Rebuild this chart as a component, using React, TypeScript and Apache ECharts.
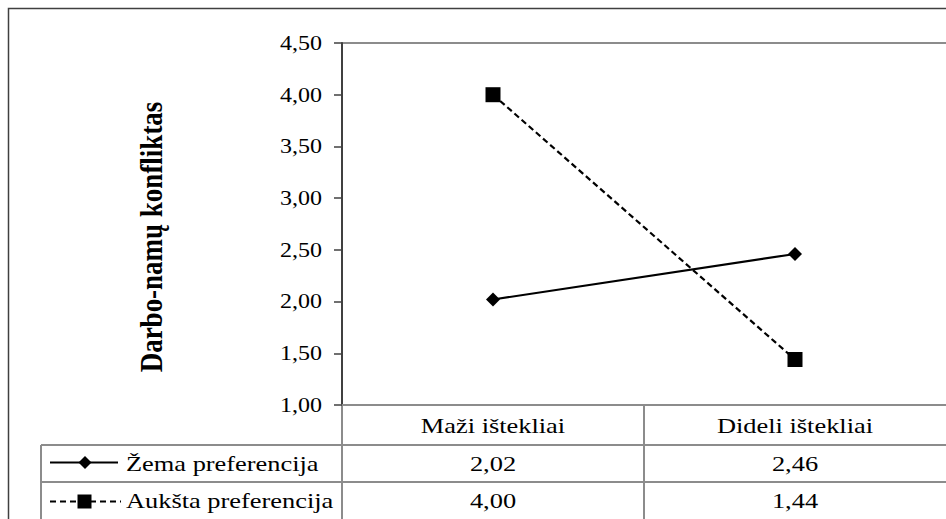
import React, { useEffect, useRef } from "react";
import * as echarts from "echarts";

const categories = ["Maži ištekliai", "Dideli ištekliai"];
const seriesNames = ["Žema preferencija", "Aukšta preferencija"];
const lowPref = [2.02, 2.46];
const highPref = [4.0, 1.44];
const yTicks = [1, 1.5, 2, 2.5, 3, 3.5, 4, 4.5];
const yMin = 1;
const yMax = 4.5;
const yStep = 0.5;
const yTitle = "Darbo-namų konfliktas";

const FONT = "Liberation Serif, Times New Roman, serif";
const fmt = (v: number) => v.toFixed(2).replace(".", ",");
const GRID_LINE = "#8c8c8c";
const SX = 1.2;

export default function App() {
  const ref = useRef<HTMLDivElement>(null);
  useEffect(() => {
    const chart = echarts.init(ref.current!, null, { renderer: "svg" });
    chart.setOption({
      animation: false,
      backgroundColor: "#fff",
      grid: { left: 342, top: 43, width: 610, height: 362 },
      xAxis: {
        type: "category",
        data: categories,
        boundaryGap: true,
        axisLine: { lineStyle: { color: GRID_LINE, width: 2 } },
        axisTick: { show: false },
        axisLabel: { show: false },
      },
      yAxis: {
        type: "value",
        min: yMin,
        max: yMax,
        interval: yStep,
        axisLine: { show: true, lineStyle: { color: "#404040", width: 2 } },
        axisTick: { show: true, length: 8, lineStyle: { color: "#404040", width: 1.5 } },
        splitLine: { show: false },
        axisLabel: { show: false },
      },
      series: [
        {
          name: seriesNames[0],
          type: "line",
          data: lowPref,
          symbol: "diamond",
          symbolSize: [14, 14],
          lineStyle: { color: "#000", width: 2.2 },
          itemStyle: { color: "#000" },
        },
        {
          name: seriesNames[1],
          type: "line",
          data: highPref,
          symbol: "rect",
          symbolSize: 15,
          lineStyle: { color: "#000", width: 2.2, type: [6, 3.5] },
          itemStyle: { color: "#000" },
        },
      ],
    });

    const xs = categories.map((c) => chart.convertToPixel({ xAxisIndex: 0 }, c) as number);
    const yPix = (v: number) => chart.convertToPixel({ yAxisIndex: 0 }, v) as number;
    const yTop = yPix(yMax);
    const yBot = yPix(yMin);
    const band = xs.length > 1 ? xs[1] - xs[0] : 300;
    const left = xs[0] - band / 2;
    const mid = xs[0] + band / 2;
    const row1 = yBot + 40;
    const row2 = yBot + 77;
    const rowH = 37;
    const W = 2000;

    const line = (x1: number, y1: number, x2: number, y2: number, color = GRID_LINE, w = 2, dash?: number[]) => ({
      type: "line",
      shape: { x1, y1, x2, y2 },
      style: { stroke: color, lineWidth: w, lineDash: dash },
      silent: true,
    });
    const txt = (x: number, y: number, text: string, align = "center", size = 22) => ({
      type: "text",
      x,
      y,
      scaleX: SX,
      style: { text, fill: "#000", fontFamily: FONT, fontSize: size, align, verticalAlign: "middle" },
      silent: true,
    });

    const k1y = row1 + rowH / 2 - 1;
    const k2y = row2 + rowH / 2 + 1;
    const d = 6.5;

    chart.setOption({
      graphic: [
        { type: "rect", shape: { x: 8.5, y: 8.5, width: W, height: W }, style: { fill: "none", stroke: "#404040", lineWidth: 1.5 }, silent: true },
        line(left, yTop, W, yTop),
        line(41, row1, W, row1),
        line(41, row2, W, row2),
        line(41, row1, 41, W),
        line(left, yBot, left, W),
        line(mid, yBot, mid, W),
        // y tick labels
        ...yTicks.map((v) => txt(left - 20, yPix(v), fmt(v), "right", 20)),
        // category labels
        ...xs.map((x, i) => txt(x, yBot + 20, categories[i])),
        // values
        ...xs.map((x, i) => txt(x, row1 + rowH / 2, fmt(lowPref[i]))),
        ...xs.map((x, i) => txt(x, row2 + rowH / 2, fmt(highPref[i]))),
        // legend keys
        line(50, k1y, 118, k1y, "#000", 2.2),
        {
          type: "polygon",
          shape: { points: [[85, k1y - d], [85 + d, k1y], [85, k1y + d], [85 - d, k1y]] },
          style: { fill: "#000" },
          silent: true,
        },
        line(50, k2y, 121, k2y, "#000", 2.2, [6, 4]),
        { type: "rect", shape: { x: 77.5, y: k2y - 7, width: 14, height: 14 }, style: { fill: "#000" }, silent: true },
        txt(126, row1 + rowH / 2, seriesNames[0], "left"),
        txt(126, row2 + rowH / 2, seriesNames[1], "left"),
        {
          type: "text",
          x: 151,
          y: 237,
          rotation: Math.PI / 2,
          scaleY: SX,
          style: { text: yTitle, fill: "#000", fontFamily: FONT, fontSize: 27, fontWeight: "bold", align: "center", verticalAlign: "middle" },
          silent: true,
        },
      ],
    });
    return () => chart.dispose();
  }, []);
  return (
    <div
      ref={ref}
      style={{ position: "absolute", left: 0, top: 0, width: 946, height: 519, background: "#fff" }}
    />
  );
}
